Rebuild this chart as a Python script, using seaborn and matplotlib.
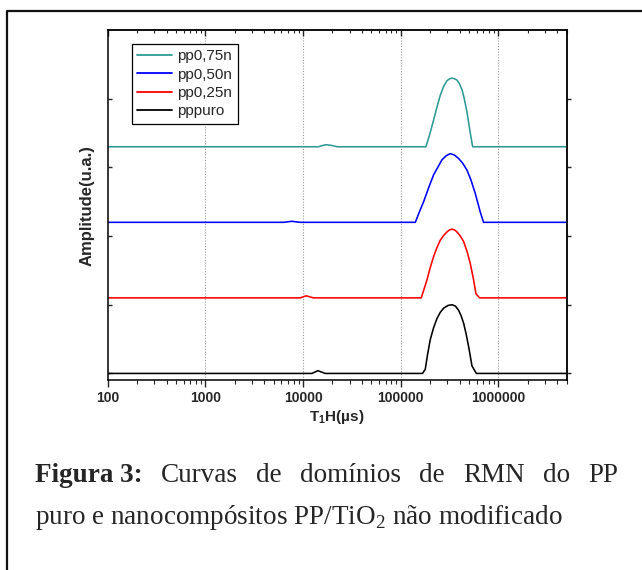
import numpy as np
import pandas as pd
import matplotlib
matplotlib.use("Agg")
import matplotlib.pyplot as plt
from matplotlib.lines import Line2D
from matplotlib.ticker import LogLocator, NullFormatter
import seaborn as sns

# ---------------- data ----------------
series = ["pp0,75n", "pp0,50n", "pp0,25n", "pppuro"]
colors = ["#2f9a94", "#0000ff", "#ff0000", "#000000"]
offsets = [3.3, 2.2, 1.1, 0.0]

t_075 = [100, 14300, 16000, 17300, 19500, 22400,
         181000, 198000, 217000, 234000, 254000, 275000, 297000, 316000, 335000,
         355000, 377000, 398000, 424000, 447000, 476000, 515000, 545000, 5000000]
a_075 = [0, 0, 0.02, 0.03, 0.02, 0,
         0, 0.18, 0.39, 0.57, 0.75, 0.88, 0.96, 0.99, 1.0,
         0.99, 0.97, 0.92, 0.83, 0.70, 0.51, 0.2, 0, 0]

t_050 = [100, 6310, 7670, 9330,
         141000, 155000, 171400, 195000, 216800, 264200, 292000, 321400,
         354000, 390800, 431500, 476400, 525000, 579400, 651600, 704700, 5000000]
a_050 = [0, 0, 0.015, 0,
         0, 0.15, 0.30, 0.52, 0.69, 0.91, 0.97, 1.0,
         0.98, 0.93, 0.86, 0.76, 0.61, 0.42, 0.15, 0, 0]

t_025 = [100, 9330, 10760, 12790,
         162200, 185400, 199500, 216800, 234400, 254100, 275400, 297200, 316000,
         335000, 355000, 376700, 407000, 440600, 478600, 515200, 557200, 588800,
         641200, 5000000]
a_025 = [0, 0, 0.03, 0,
         0, 0.26, 0.43, 0.60, 0.73, 0.84, 0.91, 0.96, 0.99,
         1.0, 0.99, 0.96, 0.90, 0.82, 0.67, 0.50, 0.26, 0.06,
         0, 0]

t_puro = [100, 12300, 14190, 16830,
          167100, 178200, 188400, 200400, 216300, 235000, 254100, 274800, 305000,
          335000, 363000, 390800, 415000, 440600, 467700, 495500, 535800, 594300,
          5000000]
a_puro = [0, 0, 0.04, 0,
          0, 0.06, 0.28, 0.49, 0.66, 0.80, 0.89, 0.95, 0.99,
          1.0, 0.98, 0.92, 0.84, 0.73, 0.57, 0.39, 0.11, 0,
          0]

x_ticks = [100, 1000, 10000, 100000, 1000000]
x_labels = ["100", "1000", "10000", "100000", "1000000"]
y_ticks = [0, 1, 2, 3, 4]

caption_bold = "Figura 3:"
caption_line1 = "Curvas de domínios de RMN do PP"
caption_line2 = "puro e nanocompósitos PP/TiO$_\\mathrm{2}$ não modificado"

# ---------------- long-form table ----------------
frames = []
for name, t, a, off in zip(series, [t_075, t_050, t_025, t_puro],
                           [a_075, a_050, a_025, a_puro], offsets):
    frames.append(pd.DataFrame({"T": t, "y": np.array(a) + off, "series": name}))
df = pd.concat(frames, ignore_index=True)

# ---------------- style ----------------
sns.set_style("white")
plt.rcParams["font.family"] = ["Liberation Sans", "DejaVu Sans"]
plt.rcParams["mathtext.fontset"] = "custom"
plt.rcParams["mathtext.rm"] = "Liberation Serif"
plt.rcParams["mathtext.bf"] = "Liberation Sans:bold"

W, H = 642, 570
fig = plt.figure(figsize=(W / 100, H / 100), dpi=100)
ax = fig.add_axes([107.7 / W, 1 - 380.3 / H, (566.7 - 107.7) / W, (380.3 - 30) / H])

sns.lineplot(data=df, x="T", y="y", hue="series", hue_order=series,
             palette=dict(zip(series, colors)), sort=False, estimator=None,
             units="series", linewidth=1.15, ax=ax, legend=False)

ax.set_xscale("log")
ax.set_xlim(100, 5e6)
ax.set_ylim(-0.1, 5.0)

for s in ax.spines.values():
    s.set_linewidth(1.1)
    s.set_color("black")

ax.set_xticks(x_ticks, x_labels)
ax.xaxis.set_minor_locator(LogLocator(base=10, subs=np.arange(2, 10)))
ax.xaxis.set_minor_formatter(NullFormatter())
ax.tick_params(axis="x", which="major", direction="out", length=5, width=1,
               labelsize=10, pad=3, bottom=True, top=False)
ax.tick_params(axis="x", which="minor", direction="out", length=3, width=0.8,
               bottom=True, top=False)
for lab in ax.get_xticklabels():
    lab.set_fontweight("bold")

ax.set_yticks(y_ticks)
ax.set_yticklabels([])
ax.tick_params(axis="y", which="major", direction="in", length=3, width=1,
               left=True, right=False)

# top and right mirrored ticks
axt = ax.secondary_xaxis("top")
axt.set_xticks(x_ticks)
axt.xaxis.set_minor_locator(LogLocator(base=10, subs=np.arange(2, 10)))
axt.xaxis.set_minor_formatter(NullFormatter())
axt.tick_params(axis="x", which="major", direction="in", length=4, width=1, labeltop=False)
axt.tick_params(axis="x", which="minor", direction="in", length=2.5, width=0.8)
axt.spines["top"].set_linewidth(1.1)

axr = ax.secondary_yaxis("right")
axr.set_yticks(y_ticks)
axr.set_yticklabels([])
axr.tick_params(axis="y", direction="out", length=3, width=1)
axr.spines["right"].set_linewidth(1.1)

# vertical dotted grid
for xv in x_ticks[1:]:
    ax.axvline(xv, color="#9a9a9a", linestyle=(0, (1, 1.5)), linewidth=0.8, zorder=0)

ax.set_xlabel("T$_\\mathbf{1}$H(µs)", fontsize=11, fontweight="bold", labelpad=2)
ax.set_ylabel("Amplitude(u.a.)", fontsize=12, fontweight="bold", labelpad=6)

handles = [Line2D([0], [0], color=c, lw=1.3) for c in colors]
leg = ax.legend(handles, series, loc="upper left", bbox_to_anchor=(0.052, 0.96),
                frameon=True, fancybox=False, edgecolor="black", framealpha=1,
                fontsize=11, handlelength=2.3, handletextpad=0.35,
                labelspacing=0.28, borderpad=0.35, borderaxespad=0)
leg.get_frame().set_linewidth(0.9)

# outer border (left and top edges)
fig.add_artist(Line2D([7 / W, 7 / W, 1.0], [0.0, 1 - 11 / H, 1 - 11 / H],
                      transform=fig.transFigure, color="#111111", linewidth=1.6))

# caption (first line justified)
fig.canvas.draw()
renderer = fig.canvas.get_renderer()
cap_size = 19.5
serif = ["Liberation Serif", "DejaVu Serif"]
y1 = 1 - 476 / H
y2 = 1 - 517 / H
words = [(caption_bold, "bold")] + [(w, "normal") for w in caption_line1.split()]
texts = []
for w, fw in words:
    t = fig.text(0, y1, w, fontsize=cap_size, fontweight=fw, va="center", ha="left",
                 family=serif)
    texts.append(t)
widths = [t.get_window_extent(renderer).width for t in texts]
x_left, x_right = 35.0, 618.0
gap = (x_right - x_left - sum(widths)) / (len(texts) - 1)
xpos = x_left
for t, wdt in zip(texts, widths):
    t.set_x(xpos / W)
    xpos += wdt + gap

fig.text(35 / W, y2, caption_line2, fontsize=cap_size, va="center", ha="left",
         family=serif)

fig.savefig("out.png", dpi=100)
